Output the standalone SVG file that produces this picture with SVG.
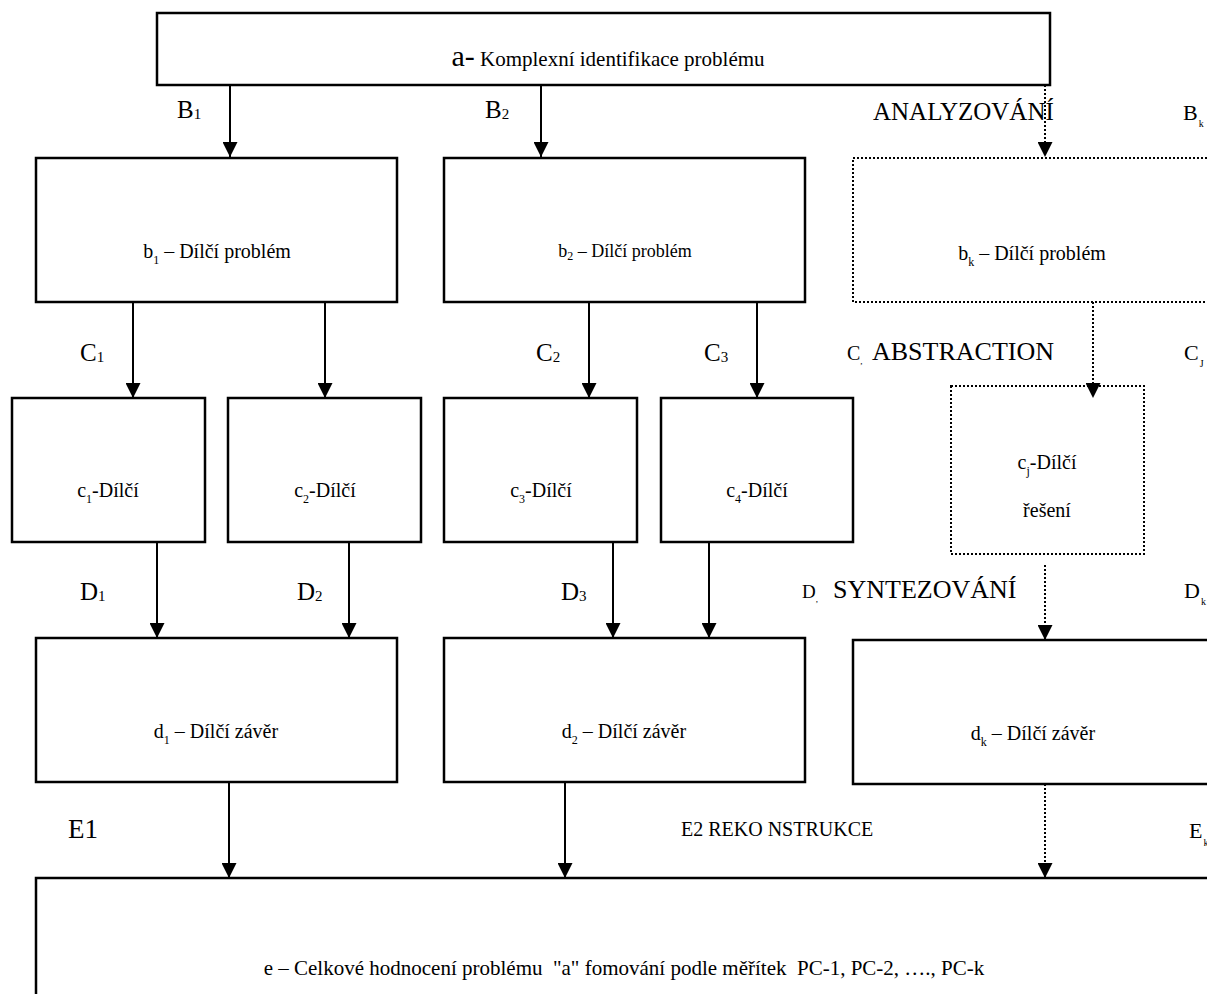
<svg xmlns="http://www.w3.org/2000/svg" width="1207" height="994" viewBox="0 0 1207 994" font-family="'Liberation Serif', 'Times New Roman', 'DejaVu Serif', serif">
<style>
text, tspan{font-family:"Liberation Serif","Times New Roman","DejaVu Serif",serif;fill:#000}
.box{fill:#fff;stroke:#000;stroke-width:2.5}
.dbox{fill:#fff;stroke:#000;stroke-width:2;stroke-dasharray:2 2}
.ln{stroke:#000;stroke-width:2;fill:none;marker-end:url(#ah)}
.dl{stroke:#000;stroke-width:2;fill:none;stroke-dasharray:2 2;marker-end:url(#ah)}
.lbl{font-size:25px}
.bt{font-size:20px;text-anchor:middle}
</style>
<defs>
<marker id="ah" viewBox="0 0 15 15" refX="15" refY="7.5" markerWidth="15" markerHeight="15" markerUnits="userSpaceOnUse" orient="auto">
<path d="M0,0 L15,7.5 L0,15 z" fill="#000"/>
</marker>
</defs>

<g id="node-a">
<rect class="box" x="157" y="13" width="893" height="72"/>
<text x="608" y="66" text-anchor="middle" font-family="'Liberation Serif', serif"><tspan font-size="30">a-</tspan><tspan font-size="21"> Komplexní identifikace problému</tspan></text>
</g>

<g id="node-b1">
<rect class="box" x="36" y="158" width="361" height="144"/>
<text class="bt" x="217" y="258" font-family="'Liberation Serif', serif">b<tspan font-size="12" dy="6">1</tspan><tspan dy="-6"> – Dílčí problém</tspan></text>
</g>
<g id="node-b2">
<rect class="box" x="444" y="158" width="361" height="144"/>
<text class="bt" x="625" y="257" style="font-size:18px" font-family="'Liberation Serif', serif">b<tspan font-size="12" dy="3">2</tspan><tspan dy="-3"> – Dílčí problém</tspan></text>
</g>
<g id="node-bk">
<rect class="dbox" x="853" y="158" width="360" height="144"/>
<text class="bt" x="1032" y="260" font-family="'Liberation Serif', serif">b<tspan font-size="12" dy="6">k</tspan><tspan dy="-6"> – Dílčí problém</tspan></text>
</g>

<g id="node-c1">
<rect class="box" x="12" y="398" width="193" height="144"/>
<text class="bt" x="108" y="497" font-family="'Liberation Serif', serif">c<tspan font-size="12" dy="6">1</tspan><tspan dy="-6">-Dílčí</tspan></text>
</g>
<g id="node-c2">
<rect class="box" x="228" y="398" width="193" height="144"/>
<text class="bt" x="325" y="497" font-family="'Liberation Serif', serif">c<tspan font-size="12" dy="6">2</tspan><tspan dy="-6">-Dílčí</tspan></text>
</g>
<g id="node-c3">
<rect class="box" x="444" y="398" width="193" height="144"/>
<text class="bt" x="541" y="497" font-family="'Liberation Serif', serif">c<tspan font-size="12" dy="6">3</tspan><tspan dy="-6">-Dílčí</tspan></text>
</g>
<g id="node-c4">
<rect class="box" x="661" y="398" width="192" height="144"/>
<text class="bt" x="757" y="497" font-family="'Liberation Serif', serif">c<tspan font-size="12" dy="6">4</tspan><tspan dy="-6">-Dílčí</tspan></text>
</g>
<g id="node-cj">
<rect class="dbox" x="951" y="386" width="193" height="168"/>
<text class="bt" x="1047" y="469" font-family="'Liberation Serif', serif">c<tspan font-size="12" dy="6">j</tspan><tspan dy="-6">-Dílčí</tspan></text>
<text class="bt" x="1047" y="517" font-family="'Liberation Serif', serif">řešení</text>
</g>

<g id="node-d1">
<rect class="box" x="36" y="638" width="361" height="144"/>
<text class="bt" x="216" y="738" font-family="'Liberation Serif', serif">d<tspan font-size="12" dy="6">1</tspan><tspan dy="-6"> – Dílčí závěr</tspan></text>
</g>
<g id="node-d2">
<rect class="box" x="444" y="638" width="361" height="144"/>
<text class="bt" x="624" y="738" font-family="'Liberation Serif', serif">d<tspan font-size="12" dy="6">2</tspan><tspan dy="-6"> – Dílčí závěr</tspan></text>
</g>
<g id="node-dk">
<rect class="box" x="853" y="640" width="360" height="144"/>
<text class="bt" x="1033" y="740" font-family="'Liberation Serif', serif">d<tspan font-size="12" dy="6">k</tspan><tspan dy="-6"> – Dílčí závěr</tspan></text>
</g>

<g id="node-e">
<rect class="box" x="36" y="878" width="1177" height="130"/>
<text x="624" y="975" font-size="21" text-anchor="middle" xml:space="preserve" font-family="'Liberation Serif', serif">e – Celkové hodnocení problému  "a" fomování podle měřítek  PC-1, PC-2, …., PC-k</text>
</g>

<g id="connectors">
<line class="ln" x1="230" y1="85" x2="230" y2="157"/>
<line class="ln" x1="541" y1="85" x2="541" y2="157"/>
<line class="dl" x1="1045" y1="85" x2="1045" y2="157"/>
<line class="ln" x1="133" y1="302" x2="133" y2="398"/>
<line class="ln" x1="325" y1="302" x2="325" y2="398"/>
<line class="ln" x1="589" y1="302" x2="589" y2="398"/>
<line class="ln" x1="757" y1="302" x2="757" y2="398"/>
<line class="dl" x1="1093" y1="302" x2="1093" y2="398"/>
<line class="ln" x1="157" y1="542" x2="157" y2="638"/>
<line class="ln" x1="349" y1="542" x2="349" y2="638"/>
<line class="ln" x1="613" y1="542" x2="613" y2="638"/>
<line class="ln" x1="709" y1="542" x2="709" y2="638"/>
<line class="dl" x1="1045" y1="565" x2="1045" y2="640"/>
<line class="ln" x1="229" y1="782" x2="229" y2="878"/>
<line class="ln" x1="565" y1="782" x2="565" y2="878"/>
<line class="dl" x1="1045" y1="784" x2="1045" y2="878"/>
</g>

<g id="labels" font-family="'Liberation Serif', serif">
<text class="lbl" x="177" y="118">B<tspan font-size="15" dy="1">1</tspan></text>
<text class="lbl" x="485" y="118">B<tspan font-size="15" dy="1">2</tspan></text>
<text class="lbl" x="873" y="120">ANALYZOVÁNÍ</text>
<text x="1183" y="120" font-size="22">B<tspan font-size="10" dx="1" dy="7">k</tspan></text>

<text class="lbl" x="80" y="361">C<tspan font-size="15" dy="1">1</tspan></text>
<text class="lbl" x="536" y="361">C<tspan font-size="15" dy="1">2</tspan></text>
<text class="lbl" x="704" y="361">C<tspan font-size="15" dy="1">3</tspan></text>
<text x="847" y="360"><tspan font-size="20">C</tspan><tspan font-size="9" dy="4">,</tspan><tspan x="872" dy="-4" font-size="26">ABSTRACTION</tspan></text>
<text x="1184" y="360" font-size="22">C<tspan font-size="10" dx="1" dy="7">J</tspan></text>

<text class="lbl" x="80" y="600">D<tspan font-size="15" dy="1">1</tspan></text>
<text class="lbl" x="297" y="600">D<tspan font-size="15" dy="1">2</tspan></text>
<text class="lbl" x="561" y="600">D<tspan font-size="15" dy="1">3</tspan></text>
<text x="802" y="598"><tspan font-size="19">D</tspan><tspan font-size="9" dy="4">,</tspan><tspan x="833" dy="-4" font-size="26">SYNTEZOVÁNÍ</tspan></text>
<text x="1184" y="598" font-size="22">D<tspan font-size="10" dx="1" dy="7">k</tspan></text>

<text x="68" y="838" font-size="27">E1</text>
<text x="681" y="836" font-size="20">E2 REKO NSTRUKCE</text>
<text x="1189" y="838" font-size="22">E<tspan font-size="10" dx="1" dy="8">k</tspan></text>
</g>
</svg>
